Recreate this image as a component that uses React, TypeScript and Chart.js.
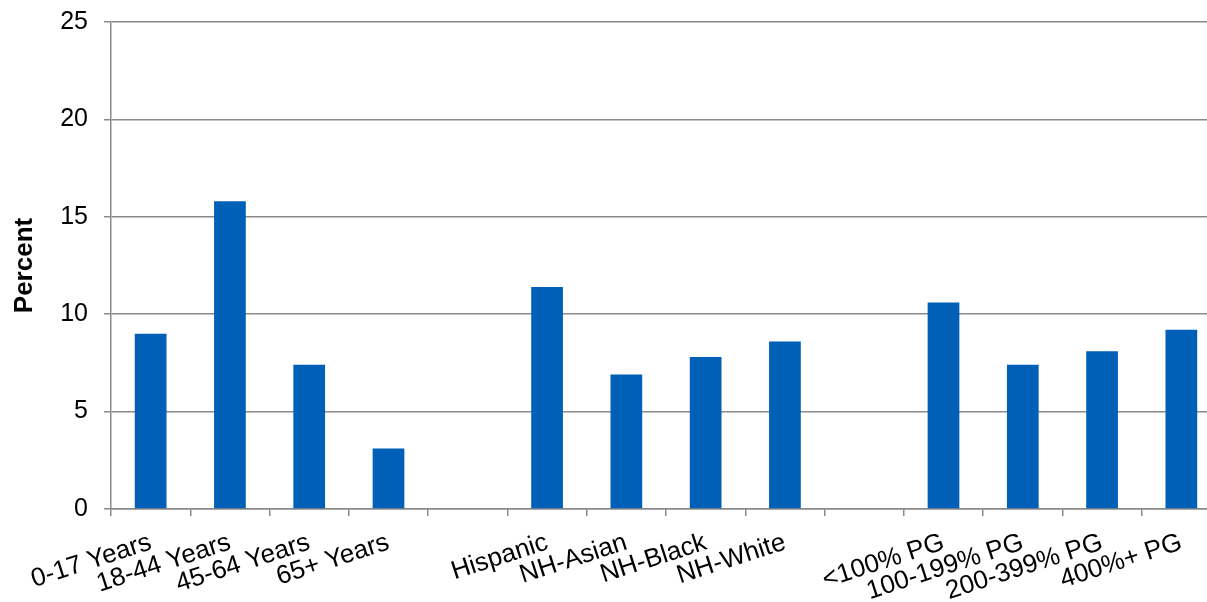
import React, { useEffect, useRef } from "react";
import { Chart, registerables } from "chart.js";

Chart.register(...registerables);

const categories: string[] = [
  "0-17 Years",
  "18-44 Years",
  "45-64 Years",
  "65+ Years",
  "",
  "Hispanic",
  "NH-Asian",
  "NH-Black",
  "NH-White",
  "",
  "<100% PG",
  "100-199% PG",
  "200-399% PG",
  "400%+ PG",
];

const percentValues: (number | null)[] = [
  9.0, 15.8, 7.4, 3.1, null, 11.4, 6.9, 7.8, 8.6, null, 10.6, 7.4, 8.1, 9.2,
];

const yTicks: number[] = [0, 5, 10, 15, 20, 25];

const W = 1207;
const H = 602;
const CW = 1221;
const FONT = "'Liberation Sans', Arial, sans-serif";

export default function App() {
  const ref = useRef<HTMLCanvasElement | null>(null);

  useEffect(() => {
    if (!ref.current) return;
    const chart = new Chart(ref.current, {
      type: "bar",
      data: {
        labels: categories,
        datasets: [
          {
            label: "Percent",
            data: percentValues,
            backgroundColor: "#005FB7",
            borderWidth: 0,
            barPercentage: 0.4,
            categoryPercentage: 1.0,
          },
        ],
      },
      options: {
        responsive: false,
        animation: false,
        devicePixelRatio: 1,
        layout: { padding: { top: 22, right: 0, bottom: 0, left: 0 } },
        plugins: {
          legend: { display: false },
          tooltip: { enabled: false },
        },
        scales: {
          x: {
            type: "category",
            offset: true,
            grid: {
              display: true,
              offset: true,
              drawOnChartArea: false,
              drawTicks: true,
              tickLength: 7,
              color: "#8a8a8a",
              lineWidth: 1.5,
            },
            border: { display: true, color: "#8a8a8a", width: 1.5 },
            ticks: {
              autoSkip: false,
              minRotation: 18,
              maxRotation: 18,
              padding: 11,
              color: "#000000",
              font: { family: FONT, size: 26 },
            },
            afterFit: (scale: any) => {
              scale.height = 93;
              scale.paddingLeft = 0;
              scale.paddingRight = 0;
              scale.paddingTop = 0;
              scale.paddingBottom = 0;
            },
          },
          y: {
            min: 0,
            max: 25,
            afterBuildTicks: (scale: any) => {
              scale.ticks = yTicks.map((v) => ({ value: v }));
            },
            grid: {
              display: true,
              drawTicks: true,
              tickLength: 7,
              color: "#8a8a8a",
              lineWidth: 1.5,
            },
            border: { display: true, color: "#8a8a8a", width: 1.5 },
            ticks: {
              padding: 16,
              color: "#000000",
              font: { family: FONT, size: 25 },
            },
            title: {
              display: true,
              text: "Percent",
              color: "#000000",
              font: { family: FONT, size: 26, weight: "bold" },
              padding: { top: 9, bottom: 0 },
            },
            afterFit: (scale: any) => {
              scale.width = 111;
              scale.paddingTop = 0;
              scale.paddingBottom = 0;
            },
          },
        },
      },
    });
    return () => chart.destroy();
  }, []);

  return (
    <div
      style={{
        position: "absolute",
        left: 0,
        top: 0,
        width: W,
        height: H,
        overflow: "hidden",
        background: "#ffffff",
      }}
    >
      <canvas ref={ref} width={CW} height={H} style={{ display: "block", width: CW, height: H }} />
    </div>
  );
}
